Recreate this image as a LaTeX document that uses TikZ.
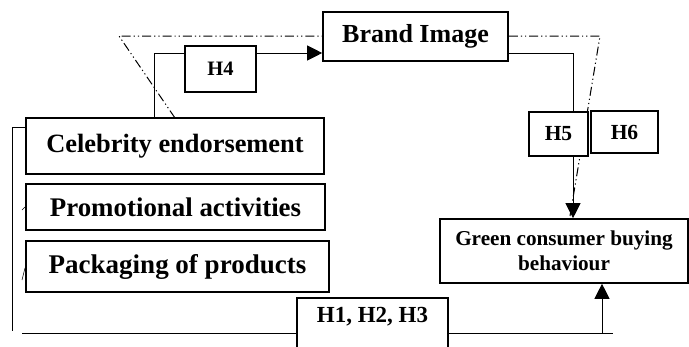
\documentclass[tikz,border=0pt]{standalone}
\usepackage{fontspec}
\setmainfont{Liberation Serif}
\usetikzlibrary{arrows.meta,backgrounds}
\begin{document}
\begin{tikzpicture}[x=1pt,y=-1pt,
  box/.style={draw,line width=1.6pt,fill=white,font=\bfseries,inner sep=0pt,align=center},
  conn/.style={line width=0.9pt},
  arr/.style={conn,-{Triangle[length=15pt,width=15pt]}},
  dd/.style={line width=1pt,dash pattern=on 9pt off 3pt on 1.2pt off 3pt on 1.2pt off 3pt}]
\useasboundingbox (0,0) rectangle (689,346);
\node[box,minimum width=298,minimum height=56,font=\bfseries\fontsize{26.4}{28}\selectfont] (celeb) at (175,146) {Celebrity endorsement};
\node[box,minimum width=299,minimum height=46,font=\bfseries\fontsize{26.9}{28}\selectfont] (promo) at (175.5,207) {Promotional activities};
\node[box,minimum width=303,minimum height=51,font=\bfseries\fontsize{27}{28}\selectfont] (pack) at (177.5,266.5) {Packaging of products};
\node[box,minimum width=185,minimum height=49,font=\bfseries\fontsize{26}{28}\selectfont] (brand) at (415.5,36.5) {Brand Image};
\node[box,minimum width=71,minimum height=46,font=\bfseries\fontsize{20.5}{24}\selectfont] (h4) at (220.5,69) {H4};
\node[box,minimum width=59,minimum height=44,font=\bfseries\fontsize{21.5}{24}\selectfont] (h5) at (558.5,134) {H5};
\node[box,minimum width=67,minimum height=42,font=\bfseries\fontsize{21.5}{24}\selectfont] (h6) at (624.5,132) {H6};
\node[box,minimum width=248,minimum height=64,font=\bfseries\fontsize{21.2}{25}\selectfont] (green) at (564,251) {Green consumer buying\\behaviour};
\node[box,minimum width=151,anchor=north,text height=15pt,text depth=40pt,inner ysep=10pt,font=\bfseries\fontsize{23}{26}\selectfont] (h123) at (372.5,297) {H1, H2, H3};
\coordinate (c1) at (154,53);
\coordinate (c5) at (573,53);
\coordinate (lc) at (12,127);
\coordinate (lb) at (12,331);
\coordinate (bl) at (22,333);
\coordinate (br) at (613,333);
\coordinate (ba) at (602,333);
\coordinate (d0) at (119,36);
\coordinate (d1) at (175,118);
\coordinate (d2) at (600,36);
\coordinate (d3) at (570,216);
\begin{scope}[on background layer]
\draw[dd] (d1) -- (d0) -- (brand.west |- d0);
\draw[dd] (brand.east |- d0) -- (d2) -- (d3);
\end{scope}
\draw[conn] (celeb.north -| c1) |- (h4.west |- c1);
\draw[arr] (h4.east |- c1) -- (brand.west |- c1);
\draw[conn] (brand.east |- c1) -| (h5.north -| c5);
\draw[arr] (h5.south -| c5) -- (green.north -| c5);
\draw[conn] (celeb.west |- lc) -- (lc) -- (lb);
\draw[conn] (bl) -- (h123.west |- bl);
\draw[conn] (h123.east |- bl) -- (br);
\draw[arr] (ba) -- (green.south -| ba);
\coordinate (f1a) at (22,210); \coordinate (f1b) at (25,207);
\coordinate (f2a) at (22,280); \coordinate (f2b) at (25,268);
\draw[line width=0.6pt] (f1a) -- (f1b);
\draw[line width=0.6pt] (f2a) -- (f2b);
\end{tikzpicture}
\end{document}
